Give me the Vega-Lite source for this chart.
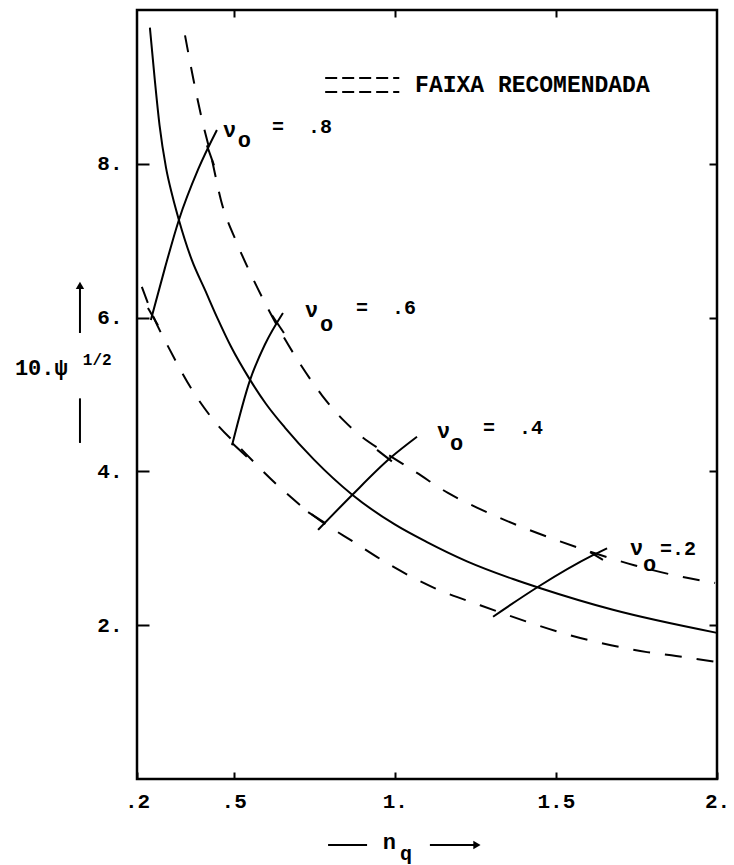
{
  "$schema": "https://vega.github.io/schema/vega-lite/v6.json",
  "width": 580,
  "height": 769,
  "autosize": "none",
  "padding": {"left": 137, "top": 10, "right": 17, "bottom": 86},
  "background": "white",
  "config": {
    "view": {"stroke": "black", "strokeWidth": 2.5},
    "axis": {"domain": false, "grid": false, "title": null, "labelFont": "Liberation Mono", "labelFontSize": 21, "labelFontWeight": "bold", "labelColor": "black", "tickColor": "black", "tickWidth": 2}
  },
  "datasets": {
    "curves": [
      {"c": "solid", "x": 0.240, "y": 9.77}, {"c": "solid", "x": 0.255, "y": 9.10}, {"c": "solid", "x": 0.270, "y": 8.50},
      {"c": "solid", "x": 0.290, "y": 7.95}, {"c": "solid", "x": 0.310, "y": 7.58}, {"c": "solid", "x": 0.330, "y": 7.27},
      {"c": "solid", "x": 0.370, "y": 6.75}, {"c": "solid", "x": 0.411, "y": 6.36}, {"c": "solid", "x": 0.451, "y": 5.98},
      {"c": "solid", "x": 0.492, "y": 5.62}, {"c": "solid", "x": 0.551, "y": 5.19}, {"c": "solid", "x": 0.600, "y": 4.88},
      {"c": "solid", "x": 0.659, "y": 4.57}, {"c": "solid", "x": 0.750, "y": 4.15}, {"c": "solid", "x": 0.867, "y": 3.70},
      {"c": "solid", "x": 1.000, "y": 3.31}, {"c": "solid", "x": 1.100, "y": 3.08}, {"c": "solid", "x": 1.224, "y": 2.83},
      {"c": "solid", "x": 1.367, "y": 2.60}, {"c": "solid", "x": 1.445, "y": 2.49}, {"c": "solid", "x": 1.677, "y": 2.20},
      {"c": "solid", "x": 2.000, "y": 1.90},
      {"c": "upper", "x": 0.349, "y": 9.67}, {"c": "upper", "x": 0.375, "y": 9.10}, {"c": "upper", "x": 0.402, "y": 8.57},
      {"c": "upper", "x": 0.430, "y": 8.10}, {"c": "upper", "x": 0.461, "y": 7.52}, {"c": "upper", "x": 0.510, "y": 6.97},
      {"c": "upper", "x": 0.563, "y": 6.48}, {"c": "upper", "x": 0.709, "y": 5.38}, {"c": "upper", "x": 0.774, "y": 4.99},
      {"c": "upper", "x": 0.842, "y": 4.66}, {"c": "upper", "x": 0.895, "y": 4.46}, {"c": "upper", "x": 0.960, "y": 4.27},
      {"c": "upper", "x": 1.069, "y": 3.98}, {"c": "upper", "x": 1.165, "y": 3.72}, {"c": "upper", "x": 1.265, "y": 3.51},
      {"c": "upper", "x": 1.392, "y": 3.28}, {"c": "upper", "x": 1.513, "y": 3.09}, {"c": "upper", "x": 1.743, "y": 2.78},
      {"c": "upper", "x": 1.867, "y": 2.65}, {"c": "upper", "x": 1.994, "y": 2.55},
      {"c": "lower", "x": 0.215, "y": 6.40}, {"c": "lower", "x": 0.250, "y": 6.02}, {"c": "lower", "x": 0.302, "y": 5.58},
      {"c": "lower", "x": 0.368, "y": 5.08}, {"c": "lower", "x": 0.433, "y": 4.69}, {"c": "lower", "x": 0.526, "y": 4.28},
      {"c": "lower", "x": 0.631, "y": 3.84}, {"c": "lower", "x": 0.749, "y": 3.42}, {"c": "lower", "x": 0.877, "y": 3.07},
      {"c": "lower", "x": 0.991, "y": 2.77}, {"c": "lower", "x": 1.125, "y": 2.48}, {"c": "lower", "x": 1.265, "y": 2.26},
      {"c": "lower", "x": 1.407, "y": 2.05}, {"c": "lower", "x": 1.544, "y": 1.87}, {"c": "lower", "x": 1.671, "y": 1.74},
      {"c": "lower", "x": 1.783, "y": 1.65}, {"c": "lower", "x": 1.873, "y": 1.60}, {"c": "lower", "x": 2.000, "y": 1.52},
      {"c": "nu8", "x": 0.243, "y": 5.97}, {"c": "nu8", "x": 0.287, "y": 6.65}, {"c": "nu8", "x": 0.330, "y": 7.27},
      {"c": "nu8", "x": 0.390, "y": 7.93}, {"c": "nu8", "x": 0.448, "y": 8.44},
      {"c": "nu6", "x": 0.495, "y": 4.34}, {"c": "nu6", "x": 0.551, "y": 5.19}, {"c": "nu6", "x": 0.597, "y": 5.65},
      {"c": "nu6", "x": 0.653, "y": 6.06},
      {"c": "nu4", "x": 0.762, "y": 3.24}, {"c": "nu4", "x": 0.867, "y": 3.69}, {"c": "nu4", "x": 0.985, "y": 4.17},
      {"c": "nu4", "x": 1.069, "y": 4.45},
      {"c": "nu2", "x": 1.305, "y": 2.11}, {"c": "nu2", "x": 1.445, "y": 2.50}, {"c": "nu2", "x": 1.615, "y": 2.91},
      {"c": "nu2", "x": 1.659, "y": 3.00},
      {"c": "cb1", "x": 0.234, "y": 6.125}, {"c": "cb1", "x": 0.265, "y": 5.90},
      {"c": "cb2", "x": 0.417, "y": 8.24}, {"c": "cb2", "x": 0.439, "y": 7.98},
      {"c": "cb3", "x": 0.495, "y": 4.37}, {"c": "cb3", "x": 0.541, "y": 4.19},
      {"c": "cb4", "x": 0.619, "y": 6.03}, {"c": "cb4", "x": 0.656, "y": 5.80},
      {"c": "cb5", "x": 0.731, "y": 3.47}, {"c": "cb5", "x": 0.783, "y": 3.33},
      {"c": "cb6", "x": 0.945, "y": 4.28}, {"c": "cb6", "x": 0.991, "y": 4.13},
      {"c": "cb7", "x": 1.606, "y": 2.95}, {"c": "cb7", "x": 1.646, "y": 2.85},
      {"c": "yarrow_up", "x": 0.023, "y": 5.80}, {"c": "yarrow_up", "x": 0.023, "y": 6.42},
      {"c": "yarrow_down", "x": 0.023, "y": 4.95}, {"c": "yarrow_down", "x": 0.023, "y": 4.37},
      {"c": "xarrow_left", "x": 0.793, "y": -0.858}, {"c": "xarrow_left", "x": 0.914, "y": -0.858},
      {"c": "xarrow_right", "x": 1.109, "y": -0.858}, {"c": "xarrow_right", "x": 1.255, "y": -0.858}
    ],
    "legend": [
      {"row": "a", "x": 0.784, "y": 9.116}, {"row": "a", "x": 1.014, "y": 9.116},
      {"row": "b", "x": 0.784, "y": 8.934}, {"row": "b", "x": 1.014, "y": 8.934}
    ],
    "heads": [
      {"dir": "up", "x": 0.023, "y": 6.42},
      {"dir": "right", "x": 1.255, "y": -0.858}
    ],
    "txt": [
      {"k": "nu", "t": "ν", "x": 0.467, "y": 8.44}, {"k": "nu", "t": "ν", "x": 0.721, "y": 6.10},
      {"k": "nu", "t": "ν", "x": 1.131, "y": 4.53}, {"k": "nu", "t": "ν", "x": 1.730, "y": 3.00},
      {"k": "nu", "t": "o", "x": 0.513, "y": 8.31}, {"k": "nu", "t": "o", "x": 0.768, "y": 5.92},
      {"k": "nu", "t": "o", "x": 1.171, "y": 4.37}, {"k": "nu", "t": "o", "x": 1.770, "y": 2.80},
      {"k": "eq", "t": "=\u00a0\u00a0.8", "x": 0.619, "y": 8.48}, {"k": "eq", "t": "=\u00a0\u00a0.6", "x": 0.880, "y": 6.12},
      {"k": "eq", "t": "=\u00a0\u00a0.4", "x": 1.274, "y": 4.56}, {"k": "eq", "t": "=.2", "x": 1.823, "y": 2.99},
      {"k": "leg", "t": "FAIXA RECOMENDADA", "x": 1.063, "y": 9.02},
      {"k": "nu", "t": "10.ψ", "x": -0.179, "y": 5.34},
      {"k": "sup", "t": "1/2", "x": 0.032, "y": 5.45},
      {"k": "nu", "t": "n", "x": 0.963, "y": -0.82},
      {"k": "eq", "t": "q", "x": 1.016, "y": -0.97}
    ]
  },
  "encoding": {
    "x": {"field": "x", "type": "quantitative", "scale": {"domain": [0.2, 2.0], "nice": false, "zero": false}},
    "y": {"field": "y", "type": "quantitative", "scale": {"domain": [0, 10], "nice": false, "zero": false}}
  },
  "resolve": {"axis": {"x": "independent", "y": "independent"}},
  "layer": [
    {
      "data": {"name": "curves"},
      "transform": [{"filter": "datum.c == 'solid'"}],
      "mark": {"type": "line", "interpolate": "monotone", "stroke": "black", "strokeWidth": 2},
      "encoding": {
        "x": {"field": "x", "type": "quantitative", "axis": {"orient": "bottom", "values": [0.2, 0.5, 1, 1.5, 2], "labelExpr": "datum.value == 0.2 ? '.2' : datum.value == 0.5 ? '.5' : datum.value == 1 ? '1.' : datum.value == 1.5 ? '1.5' : '2.'", "tickSize": -7, "labelPadding": 18, "labelBaseline": "top", "labelFlush": false}},
        "y": {"field": "y", "type": "quantitative", "axis": {"orient": "left", "values": [2, 4, 6, 8], "labelExpr": "datum.value + '.'", "tickSize": -12, "labelPadding": 27, "labelFlush": false}}
      }
    },
    {
      "data": {"name": "curves"},
      "transform": [{"filter": "datum.c == 'upper' || datum.c == 'lower'"}],
      "mark": {"type": "line", "interpolate": "monotone", "stroke": "black", "strokeWidth": 2, "strokeDash": [17, 15]},
      "encoding": {
        "detail": {"field": "c"},
        "x": {"field": "x", "type": "quantitative", "axis": {"orient": "top", "values": [0.5, 1, 1.5], "labels": false, "tickSize": -7}},
        "y": {"field": "y", "type": "quantitative", "axis": {"orient": "right", "values": [2, 4, 6, 8], "labels": false, "tickSize": -8}}
      }
    },
    {
      "data": {"name": "curves"},
      "transform": [{"filter": "datum.c != 'solid' && datum.c != 'upper' && datum.c != 'lower'"}],
      "mark": {"type": "line", "interpolate": "monotone", "stroke": "black", "strokeWidth": 2},
      "encoding": {
        "detail": {"field": "c"},
        "order": {"field": "x", "type": "quantitative"},
        "x": {"field": "x", "type": "quantitative", "axis": null},
        "y": {"field": "y", "type": "quantitative", "axis": null}
      }
    },
    {
      "data": {"name": "legend"},
      "mark": {"type": "line", "stroke": "black", "strokeWidth": 2, "strokeDash": [12, 5]},
      "encoding": {
        "detail": {"field": "row"},
        "x": {"field": "x", "type": "quantitative", "axis": null},
        "y": {"field": "y", "type": "quantitative", "axis": null}
      }
    },
    {
      "data": {"name": "heads"},
      "mark": {"type": "point", "filled": true, "color": "black", "opacity": 1, "size": 70},
      "encoding": {
        "shape": {"field": "dir", "type": "nominal", "scale": {"domain": ["up", "right"], "range": ["triangle-up", "triangle-right"]}, "legend": null},
        "x": {"field": "x", "type": "quantitative", "axis": null},
        "y": {"field": "y", "type": "quantitative", "axis": null}
      }
    },
    {
      "data": {"name": "txt"},
      "transform": [{"filter": "datum.k == 'nu'"}],
      "mark": {"type": "text", "font": "Liberation Mono", "fontSize": 22, "fontWeight": "bold", "align": "left", "baseline": "middle", "color": "black"},
      "encoding": {
        "text": {"field": "t"},
        "x": {"field": "x", "type": "quantitative", "axis": null},
        "y": {"field": "y", "type": "quantitative", "axis": null}
      }
    },
    {
      "data": {"name": "txt"},
      "transform": [{"filter": "datum.k == 'eq'"}],
      "mark": {"type": "text", "font": "Liberation Mono", "fontSize": 20, "fontWeight": "bold", "align": "left", "baseline": "middle", "color": "black"},
      "encoding": {
        "text": {"field": "t"},
        "x": {"field": "x", "type": "quantitative", "axis": null},
        "y": {"field": "y", "type": "quantitative", "axis": null}
      }
    },
    {
      "data": {"name": "txt"},
      "transform": [{"filter": "datum.k == 'leg'"}],
      "mark": {"type": "text", "font": "Liberation Mono", "fontSize": 23, "fontWeight": "bold", "align": "left", "baseline": "middle", "color": "black"},
      "encoding": {
        "text": {"field": "t"},
        "x": {"field": "x", "type": "quantitative", "axis": null},
        "y": {"field": "y", "type": "quantitative", "axis": null}
      }
    },
    {
      "data": {"name": "txt"},
      "transform": [{"filter": "datum.k == 'sup'"}],
      "mark": {"type": "text", "font": "Liberation Mono", "fontSize": 16, "fontWeight": "bold", "align": "left", "baseline": "middle", "color": "black"},
      "encoding": {
        "text": {"field": "t"},
        "x": {"field": "x", "type": "quantitative", "axis": null},
        "y": {"field": "y", "type": "quantitative", "axis": null}
      }
    }
  ]
}
